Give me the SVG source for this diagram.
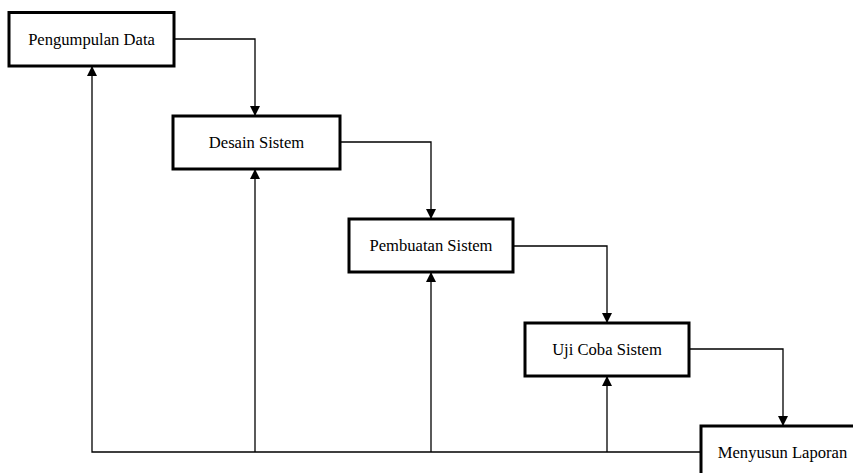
<svg xmlns="http://www.w3.org/2000/svg" width="853" height="473" viewBox="0 0 853 473">
<style>
.box{fill:#fff;stroke:#000;stroke-width:3}
.lbl{font-family:"Liberation Serif","Times New Roman",serif;font-size:16.6px;fill:#000;text-anchor:middle}
.ln{fill:none;stroke:#000;stroke-width:1.3}
</style>
<defs>
<marker id="ah" viewBox="0 0 10 10" refX="10" refY="5" markerWidth="10" markerHeight="10" markerUnits="userSpaceOnUse" orient="auto">
<path d="M0,0 L10,5 L0,10 z" fill="#000"/>
</marker>
</defs>
<rect width="853" height="473" fill="#fff"/>
<g id="connectors">
<path class="ln" d="M174,39 H255 V116" marker-end="url(#ah)"/>
<path class="ln" d="M340,142 H431 V219" marker-end="url(#ah)"/>
<path class="ln" d="M513,246 H607 V323" marker-end="url(#ah)"/>
<path class="ln" d="M689,349 H783 V426" marker-end="url(#ah)"/>
<path class="ln" d="M701,452 H92 V66" marker-end="url(#ah)"/>
<path class="ln" d="M255,452 V169" marker-end="url(#ah)"/>
<path class="ln" d="M431,452 V272" marker-end="url(#ah)"/>
<path class="ln" d="M607,452 V376" marker-end="url(#ah)"/>
</g>
<g id="n1"><rect class="box" x="9" y="12.5" width="165" height="53.5"/><text class="lbl" x="91.5" y="45">Pengumpulan Data</text></g>
<g id="n2"><rect class="box" x="173" y="116" width="167" height="53"/><text class="lbl" x="256.5" y="148">Desain Sistem</text></g>
<g id="n3"><rect class="box" x="349" y="219" width="164" height="53"/><text class="lbl" x="431" y="251">Pembuatan Sistem</text></g>
<g id="n4"><rect class="box" x="525" y="323" width="164" height="53"/><text class="lbl" x="607" y="355">Uji Coba Sistem</text></g>
<g id="n5"><rect class="box" x="701" y="426" width="165" height="60"/><text class="lbl" x="782.5" y="458">Menyusun Laporan</text></g>
</svg>
